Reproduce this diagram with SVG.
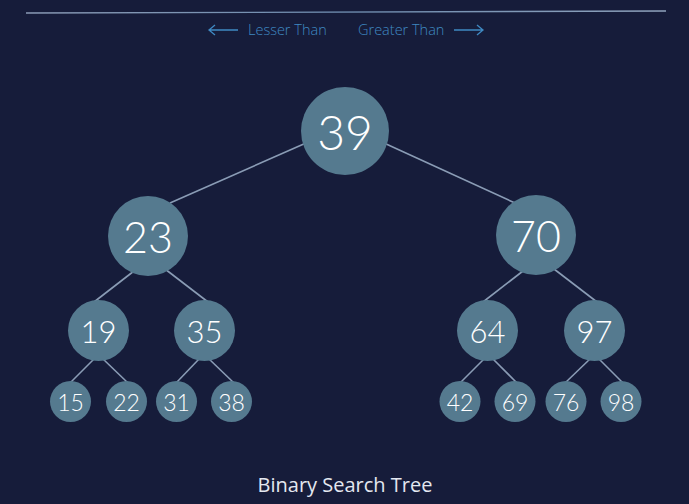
<svg xmlns="http://www.w3.org/2000/svg" width="689" height="504" viewBox="0 0 689 504">
<defs>
<linearGradient id="hl" x1="0" x2="1" y1="0" y2="0">
<stop offset="0" stop-color="#8a9ab5"/>
<stop offset="0.5" stop-color="#6f8db0"/>
<stop offset="1" stop-color="#8fa2bc"/>
</linearGradient>
<style>
.bg{fill:#161c3a}
.n circle{fill:#557a8f}
.n text{fill:#ffffff;font-family:Lato,"Open Sans",sans-serif;font-weight:300;text-anchor:middle;dominant-baseline:central}
.e line{stroke:#8a9cb5;stroke-width:1.6}
.lbl{fill:#3f89c2;font-family:"Open Sans",sans-serif;font-weight:300;font-size:14.5px}
.arr{stroke:#3f89c2;stroke-width:1.3;fill:none}
</style>
</defs>
<rect class="bg" width="689" height="504"/>
<line x1="26" y1="13" x2="666" y2="11" stroke="url(#hl)" stroke-width="1.3"/>
<g id="legend">
<path class="arr" d="M238 30 H209 M215 25 L209 30 L215 35"/>
<text class="lbl" x="248" y="35">Lesser Than</text>
<text class="lbl" x="358" y="35">Greater Than</text>
<path class="arr" d="M454 30 H483 M477 25 L483 30 L477 35"/>
</g>
<g id="edges" class="e">
<line x1="306" y1="143" x2="170" y2="203"/>
<line x1="384" y1="143" x2="515" y2="203"/>
<line x1="134" y1="271" x2="94" y2="302"/>
<line x1="165" y1="269" x2="208" y2="302"/>
<line x1="523" y1="271" x2="483" y2="302"/>
<line x1="554" y1="269" x2="597" y2="302"/>
<line x1="95" y1="358" x2="70" y2="383"/>
<line x1="102" y1="358" x2="128" y2="383"/>
<line x1="200" y1="358" x2="176" y2="383"/>
<line x1="208" y1="358" x2="234" y2="383"/>
<line x1="485" y1="358" x2="460" y2="383"/>
<line x1="492" y1="358" x2="517" y2="383"/>
<line x1="591" y1="358" x2="565" y2="383"/>
<line x1="598" y1="358" x2="623" y2="383"/>
</g>
<g id="n39" class="n"><circle cx="345" cy="131" r="44"/><text x="345" y="131" font-size="48">39</text></g>
<g id="n23" class="n"><circle cx="148" cy="236" r="40"/><text x="148" y="236" font-size="43">23</text></g>
<g id="n70" class="n"><circle cx="536" cy="235" r="40"/><text x="536" y="235" font-size="43">70</text></g>
<g id="n19" class="n"><circle cx="98.5" cy="330.5" r="30.5"/><text x="98.5" y="330.5" font-size="31">19</text></g>
<g id="n35" class="n"><circle cx="204.5" cy="330.5" r="30.5"/><text x="204.5" y="330.5" font-size="31">35</text></g>
<g id="n64" class="n"><circle cx="487.5" cy="330.5" r="30.5"/><text x="487.5" y="330.5" font-size="31">64</text></g>
<g id="n97" class="n"><circle cx="594.5" cy="330.5" r="30.5"/><text x="594.5" y="330.5" font-size="31">97</text></g>
<g id="n15" class="n"><circle cx="70.5" cy="401.5" r="20.5"/><text x="70.5" y="402" font-size="23">15</text></g>
<g id="n22" class="n"><circle cx="126.5" cy="401.5" r="20.5"/><text x="126.5" y="402" font-size="23">22</text></g>
<g id="n31" class="n"><circle cx="176.5" cy="401.5" r="20.5"/><text x="176.5" y="402" font-size="23">31</text></g>
<g id="n38" class="n"><circle cx="231.5" cy="401.5" r="20.5"/><text x="231.5" y="402" font-size="23">38</text></g>
<g id="n42" class="n"><circle cx="460" cy="401.5" r="20.5"/><text x="460" y="402" font-size="23">42</text></g>
<g id="n69" class="n"><circle cx="515" cy="401.5" r="20.5"/><text x="515" y="402" font-size="23">69</text></g>
<g id="n76" class="n"><circle cx="566" cy="401.5" r="20.5"/><text x="566" y="402" font-size="23">76</text></g>
<g id="n98" class="n"><circle cx="621" cy="401.5" r="20.5"/><text x="621" y="402" font-size="23">98</text></g>
<text x="345" y="492" fill="#e4e8f0" font-family="'Open Sans',sans-serif" font-size="20" text-anchor="middle">Binary Search Tree</text>
</svg>
